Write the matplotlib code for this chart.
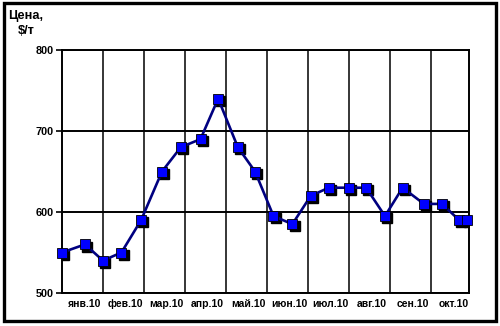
import matplotlib
matplotlib.use("Agg")
import matplotlib.pyplot as plt
import matplotlib.transforms as mtransforms
from matplotlib.patches import Rectangle

plt.rcParams['font.family'] = ['Liberation Sans', 'DejaVu Sans']
plt.rcParams['font.weight'] = 'bold'

# --- Данные (позиция в месяцах от начала янв.10, цена $/т) ---
months = ['янв.10', 'фев.10', 'мар.10', 'апр.10', 'май.10',
          'июн.10', 'июл.10', 'авг.10', 'сен.10', 'окт.10']
x_pos = [0.0, 0.56, 1.0, 1.45, 1.93, 2.44, 2.9, 3.38, 3.81, 4.29, 4.71,
         5.16, 5.62, 6.07, 6.51, 7.0, 7.42, 7.88, 8.31, 8.83, 9.27, 9.69, 9.87]
price = [550, 560, 540, 550, 590, 650, 680, 690, 740, 680, 650,
         595, 585, 620, 630, 630, 630, 595, 630, 610, 610, 590, 590]

fig = plt.figure(figsize=(5.0, 3.26), dpi=100)
ax = fig.add_axes([0.124, 0.1012, 0.814, 0.7454])

# тень маркеров
shadow = mtransforms.offset_copy(ax.transData, fig=fig, x=1.6, y=-1.6, units='points')
ax.plot(x_pos, price, ls='none', marker='s', ms=6.5, color='black',
        transform=shadow, zorder=3)
ax.plot(x_pos, price, color='#000080', lw=1.9, marker='s', ms=6.5,
        markerfacecolor='#0000FF', markeredgecolor='black', markeredgewidth=0.6,
        zorder=4, clip_on=False)

ax.set_xlim(0, 9.93)
ax.set_ylim(500, 800)
ax.set_yticks([500, 600, 700, 800])
ax.set_xticks(range(1, 10))
ax.set_xticklabels([])
ax.set_xticks([i + 0.55 for i in range(10)], minor=True)
ax.set_xticklabels(months, minor=True)
ax.tick_params(axis='x', which='both', length=0, pad=4, labelsize=7.5)
ax.tick_params(axis='y', length=4, width=1.2, pad=2, labelsize=7.8)

ax.grid(True, axis='x', which='major', color='black', lw=1.1)
ax.grid(True, axis='y', color='black', lw=1.4)
for s in ax.spines.values():
    s.set_color('black')
    s.set_linewidth(1.4)

fig.text(0.052, 0.968, 'Цена,\n$/т', ha='center', va='top', fontsize=9.2,
         fontweight='bold', linespacing=1.3)

fig.patches.append(Rectangle((0.007, 0.014), 0.984, 0.977, transform=fig.transFigure,
                             fill=False, edgecolor='black', lw=2.4))

fig.savefig('out.png', dpi=100)
